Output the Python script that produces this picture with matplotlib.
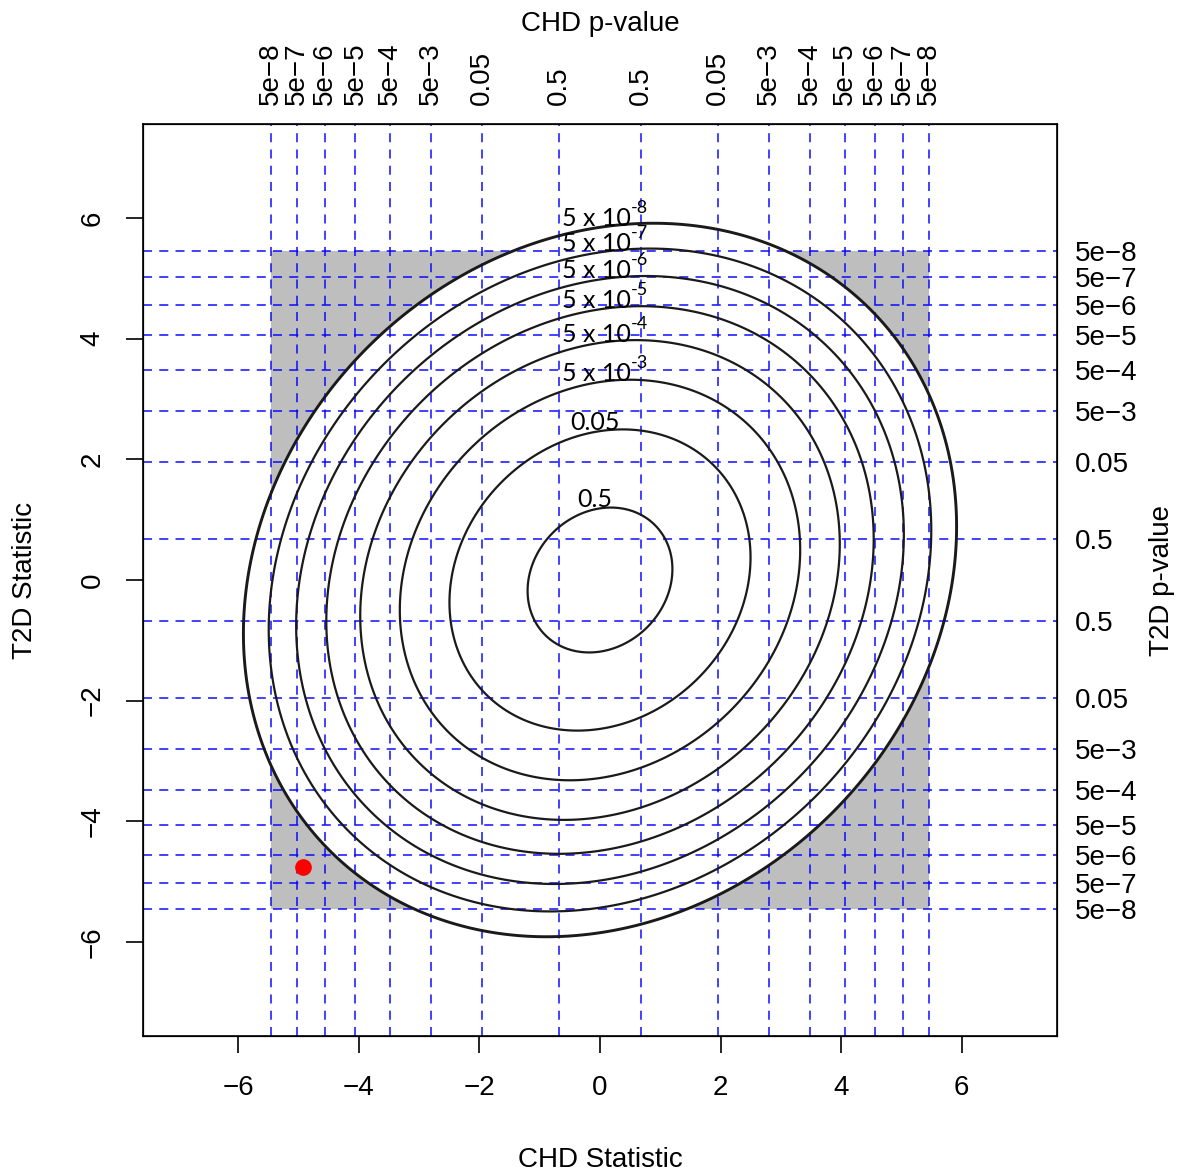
import numpy as np
import matplotlib.pyplot as plt
from matplotlib.patches import Rectangle

plt.rcParams["font.family"] = ["Liberation Sans", "DejaVu Sans"]

# two-sided p-value thresholds and the matching |z| cut-offs (outer -> inner)
p_labels = ["5e\u22128", "5e\u22127", "5e\u22126", "5e\u22125", "5e\u22124", "5e\u22123", "0.05", "0.5"]
z_cuts = [5.451, 5.026, 4.565, 4.056, 3.481, 2.807, 1.960, 0.674]

# joint-test contour levels (outer -> inner) and their labels
contour_p = [5e-8, 5e-7, 5e-6, 5e-5, 5e-4, 5e-3, 0.05, 0.5]
contour_base = ["5 x 10", "5 x 10", "5 x 10", "5 x 10", "5 x 10", "5 x 10", "0.05", "0.5"]
contour_exp = ["-8", "-7", "-6", "-5", "-4", "-3", "", ""]

# correlation between the two statistics, and spread
rho = 0.15
sd = 1.02

# the highlighted variant
point_x = [-4.92]
point_y = [-4.76]

stat_ticks = [-6, -4, -2, 0, 2, 4, 6]

fig = plt.figure(figsize=(11.79, 11.71), dpi=100)
ax = fig.add_axes([143 / 1179, 135 / 1171, 914 / 1179, 912 / 1171])
ax.set_xlim(-7.58, 7.58)
ax.set_ylim(-7.56, 7.56)

zmax = max(z_cuts)
ax.add_patch(Rectangle((-zmax, -zmax), 2 * zmax, 2 * zmax, facecolor="#BEBEBE",
                       edgecolor="none", zorder=0))

grid = np.linspace(-7.6, 7.6, 801)
X, Y = np.meshgrid(grid, grid)
Q = (X ** 2 - 2 * rho * X * Y + Y ** 2) / ((1 - rho ** 2) * sd ** 2)
levels = sorted(-2 * np.log(np.array(contour_p)))

ax.contourf(X, Y, Q, levels=[0, levels[-1]], colors=["white"], zorder=1)

dash = (0, (5, 4))
for z in z_cuts:
    for s in (-1, 1):
        ax.axvline(s * z, color="#0000FF", lw=1.3, ls=dash, alpha=0.8, zorder=2)
        ax.axhline(s * z, color="#0000FF", lw=1.3, ls=dash, alpha=0.8, zorder=2)

lws = [1.6] * (len(levels) - 1) + [2.1]
ax.contour(X, Y, Q, levels=levels, colors="#1a1a1a", linewidths=lws, zorder=3)

lab_font = ["Lato", "DejaVu Sans"]
for p, base, ex in zip(contour_p, contour_base, contour_exp):
    c = -2 * np.log(p)
    y0 = sd * np.sqrt(c * (1 - rho ** 2))
    if ex:
        t = ax.text(-0.63, y0 + 0.02, base, ha="left", va="baseline", fontsize=18,
                    family=lab_font, zorder=4)
        ax.annotate(ex, xy=(1.0, 0.6), xycoords=t, ha="left", va="bottom", fontsize=13,
                    family=lab_font, zorder=4)
    else:
        ax.text(-0.08, y0 + 0.02, base, ha="center", va="baseline", fontsize=18,
                family=lab_font, zorder=4)

ax.plot(point_x, point_y, "o", color="red", markersize=11, zorder=5)

ax.set_xticks(stat_ticks)
ax.set_yticks(stat_ticks)
ax.tick_params(length=12, width=1.2, labelsize=20, pad=16)
ax.tick_params(axis="y", labelrotation=90, pad=15)
for lab in ax.get_yticklabels():
    lab.set_va("center")
ax.set_xlabel("CHD Statistic", fontsize=20, labelpad=33)
ax.set_ylabel("T2D Statistic", fontsize=20, labelpad=30)
for sp in ax.spines.values():
    sp.set_linewidth(1.2)

z_pos = [-z for z in z_cuts] + [z for z in reversed(z_cuts)]
z_lab = p_labels + list(reversed(p_labels))

axt = ax.twiny()
axt.set_xlim(ax.get_xlim())
axt.set_xticks(z_pos)
axt.set_xticklabels(z_lab, rotation=90)
axt.tick_params(length=0, labelsize=20, pad=14)
axt.set_xlabel("CHD p-value", fontsize=20, labelpad=8)

axr = ax.twinx()
axr.set_ylim(ax.get_ylim())
axr.set_yticks(z_pos)
axr.set_yticklabels(z_lab)
axr.tick_params(length=0, labelsize=20, pad=13)
axr.set_ylabel("T2D p-value", fontsize=20, labelpad=8)

fig.savefig("out.png", dpi=100, facecolor="white")
